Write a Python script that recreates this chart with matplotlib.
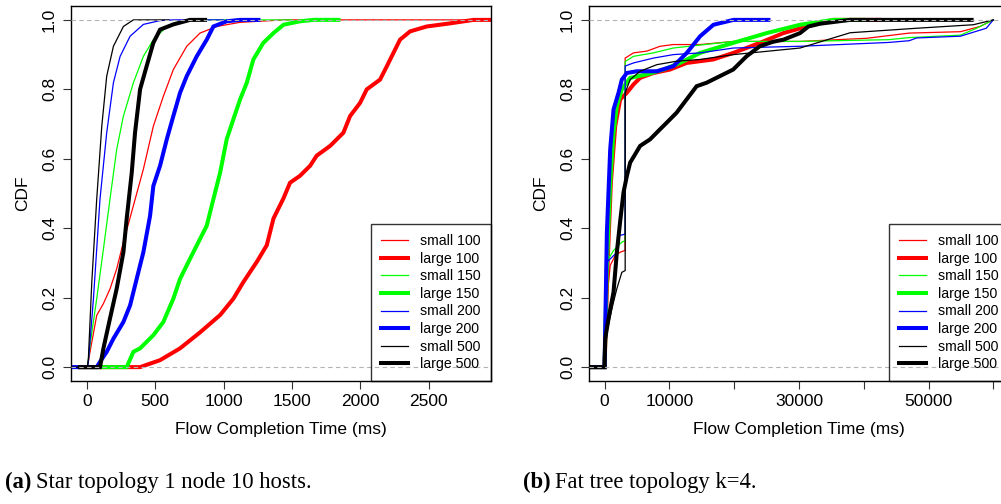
import matplotlib
matplotlib.use("Agg")
import matplotlib.pyplot as plt

plt.rcParams['font.family'] = ['Liberation Sans', 'DejaVu Sans']

# ---------------------------------------------------------------------------
# ECDF knots (flow completion time in ms, cumulative fraction)
# ---------------------------------------------------------------------------
series_labels = ["small 100", "large 100", "small 150", "large 150",
                 "small 200", "large 200", "small 500", "large 500"]

# Star topology, 1 node, 10 hosts
star_small100 = [(-115, 0), (5, 0), (24, 0.044), (73, 0.149), (122, 0.183), (171, 0.226),
                 (219, 0.283), (268, 0.36), (341, 0.465), (414, 0.57), (487, 0.694),
                 (560, 0.78), (633, 0.857), (731, 0.924), (828, 0.962), (950, 0.981),
                 (1121, 0.993), (1438, 1.0), (2955, 1.0)]
star_large100 = [(-49, 0), (390, 0), (536, 0.02), (682, 0.054), (828, 0.1), (975, 0.15),
                 (1072, 0.197), (1145, 0.245), (1243, 0.303), (1316, 0.351), (1365, 0.428),
                 (1438, 0.486), (1486, 0.531), (1559, 0.551), (1633, 0.58), (1681, 0.609),
                 (1779, 0.637), (1876, 0.675), (1925, 0.723), (1998, 0.761), (2047, 0.8),
                 (2144, 0.828), (2193, 0.866), (2242, 0.905), (2290, 0.943), (2364, 0.967),
                 (2485, 0.981), (2656, 0.99), (2827, 1.0), (2955, 1.0)]
star_small150 = [(-115, 0), (5, 0), (24, 0.063), (73, 0.197), (122, 0.34), (170, 0.484),
                 (219, 0.627), (268, 0.723), (341, 0.819), (414, 0.895), (487, 0.943),
                 (585, 0.981), (731, 0.998), (877, 1.0), (1500, 1.0)]
star_large150 = [(-49, 0), (292, 0), (341, 0.044), (390, 0.054), (487, 0.092), (560, 0.13),
                 (633, 0.197), (682, 0.254), (755, 0.312), (828, 0.369), (877, 0.407),
                 (926, 0.484), (975, 0.56), (1023, 0.656), (1072, 0.714), (1121, 0.771),
                 (1170, 0.819), (1218, 0.886), (1291, 0.934), (1365, 0.962), (1438, 0.986),
                 (1560, 0.996), (1657, 1.0), (1840, 1.0)]
star_small200 = [(-115, 0), (5, 0), (12, 0.015), (49, 0.197), (97, 0.484), (146, 0.675),
                 (195, 0.819), (244, 0.895), (317, 0.953), (414, 0.987), (536, 0.998),
                 (633, 1.0), (1000, 1.0)]
star_large200 = [(-115, 0), (73, 0), (97, 0.015), (146, 0.044), (195, 0.082), (268, 0.13),
                 (317, 0.178), (365, 0.254), (414, 0.331), (463, 0.436), (487, 0.522),
                 (536, 0.58), (585, 0.656), (633, 0.723), (682, 0.79), (731, 0.838),
                 (804, 0.895), (877, 0.943), (926, 0.981), (1023, 0.996), (1121, 1.0),
                 (1255, 1.0)]
star_small500 = [(-115, 0), (5, 0), (12, 0.025), (37, 0.245), (73, 0.484), (110, 0.694),
                 (146, 0.838), (195, 0.924), (268, 0.981), (341, 1.0), (600, 1.0)]
star_large500 = [(-49, 0), (97, 0), (100, 0.006), (122, 0.054), (170, 0.14), (219, 0.226),
                 (268, 0.331), (292, 0.427), (329, 0.56), (353, 0.675), (390, 0.8),
                 (438, 0.867), (487, 0.934), (536, 0.972), (633, 0.987), (755, 1.0),
                 (865, 1.0)]

# Fat tree topology, k=4
fat_small100 = [(-2400, 0), (0, 0), (359, 0.197), (872, 0.293), (1641, 0.321), (2410, 0.331),
                (3180, 0.336), (3180, 0.89), (4462, 0.905), (6513, 0.91), (8564, 0.924),
                (10615, 0.929), (14749, 0.929), (19888, 0.938), (30166, 0.938),
                (40443, 0.947), (47000, 0.962), (54900, 0.966), (57916, 0.981), (59970, 1.0)]
fat_large100 = [(-2400, 0), (0, 0), (462, 0.293), (975, 0.532), (1641, 0.694), (2410, 0.771),
                (3436, 0.79), (4462, 0.814), (5487, 0.833), (7538, 0.847), (10103, 0.857),
                (12667, 0.876), (16769, 0.886), (19888, 0.905), (23997, 0.934),
                (27596, 0.962), (31194, 0.981), (35305, 1.0), (42500, 1.0)]
fat_small150 = [(-2400, 0), (0, 0), (256, 0.3), (1385, 0.336), (2667, 0.36), (3180, 0.364),
                (3180, 0.88), (4462, 0.895), (7538, 0.905), (10615, 0.919), (19888, 0.938),
                (30166, 0.938), (43800, 0.943), (47000, 0.949), (54900, 0.956),
                (57402, 0.976), (59970, 1.0)]
fat_large150 = [(-2400, 0), (0, 0), (359, 0.293), (872, 0.532), (1385, 0.675), (1900, 0.752),
                (2667, 0.8), (3949, 0.833), (6513, 0.843), (9077, 0.857), (11641, 0.876),
                (14749, 0.905), (19888, 0.934), (25027, 0.962), (30166, 0.986),
                (35305, 1.0), (40000, 1.0)]
fat_small200 = [(-2400, 0), (0, 0), (256, 0.3), (1385, 0.321), (2000, 0.331), (2308, 0.379),
                (3180, 0.383), (3180, 0.867), (4462, 0.876), (7538, 0.89), (10615, 0.9),
                (14749, 0.905), (19888, 0.919), (30166, 0.924), (43800, 0.935),
                (47000, 0.94), (48152, 0.948), (54900, 0.953), (58900, 0.976), (59970, 1.0)]
fat_large200 = [(-2400, 0), (0, 0), (359, 0.388), (872, 0.627), (1385, 0.742), (2154, 0.79),
                (2667, 0.828), (3436, 0.847), (4974, 0.852), (8068, 0.852), (10638, 0.867),
                (12693, 0.905), (14749, 0.953), (16805, 0.986), (19888, 1.0), (25284, 1.0)]
fat_small500 = [(-2400, 0), (0, 0), (359, 0.1), (1128, 0.168), (1897, 0.226), (2667, 0.273),
                (3180, 0.278), (3180, 0.79), (3949, 0.828), (5487, 0.852), (8051, 0.871),
                (11128, 0.881), (14749, 0.886), (19888, 0.9), (30166, 0.919),
                (37900, 0.963), (48200, 0.976), (56889, 0.986), (59970, 1.0)]
fat_large500 = [(-2400, 0), (0, 0), (103, 0.082), (615, 0.14), (1385, 0.216), (1897, 0.331),
                (2410, 0.42), (2923, 0.503), (3436, 0.55), (3949, 0.589), (5487, 0.637),
                (7025, 0.656), (8564, 0.685), (9590, 0.704), (11128, 0.733), (12667, 0.771),
                (14205, 0.809), (15743, 0.819), (17794, 0.838), (19845, 0.857),
                (21897, 0.895), (23948, 0.924), (26000, 0.937), (27596, 0.943),
                (30166, 0.962), (31450, 0.981), (33250, 0.989), (37874, 1.0), (56632, 1.0)]

star_series = [star_small100, star_large100, star_small150, star_large150,
               star_small200, star_large200, star_small500, star_large500]
fat_series = [fat_small100, fat_large100, fat_small150, fat_large150,
              fat_small200, fat_large200, fat_small500, fat_large500]

star_xticks = [0, 500, 1000, 1500, 2000, 2500]
star_xticklabels = ["0", "500", "1000", "1500", "2000", "2500"]
fat_xticks = [0, 10000, 20000, 30000, 40000, 50000, 60000]
fat_xticklabels = ["0", "10000", "", "30000", "", "50000", ""]
cdf_ticks = [0.0, 0.2, 0.4, 0.6, 0.8, 1.0]
cdf_ticklabels = ["0.0", "0.2", "0.4", "0.6", "0.8", "1.0"]

captions = [("(a)", "Star topology 1 node 10 hosts."),
            ("(b)", "Fat tree topology k=4.")]

# ---------------------------------------------------------------------------
# Styling
# ---------------------------------------------------------------------------
series_colors = ["#ff0000", "#ff0000", "#00ff00", "#00ff00",
                 "#0000ff", "#0000ff", "#000000", "#000000"]
series_widths = [0.9, 2.9, 0.9, 2.9, 0.9, 2.9, 0.9, 2.9]

W, H = 1001, 504
fig = plt.figure(figsize=(W / 100, H / 100), dpi=100)


def axes_px(left, top, right, bottom):
    return fig.add_axes([left / W, 1 - bottom / H, (right - left) / W, (bottom - top) / H])


def draw_panel(ax, series, xlim, xticks, xticklabels):
    for pts, lab, col, lw in zip(series, series_labels, series_colors, series_widths):
        xs = [p[0] for p in pts]
        ys = [p[1] for p in pts]
        ax.plot(xs, ys, color=col, lw=lw, label=lab, solid_joinstyle="miter", zorder=2)
    for level in (0.0, 1.0):
        ax.axhline(level, color="#b3b3b3", lw=0.8, ls=(0, (4, 3)), zorder=3)

    ax.set_xlim(*xlim)
    ax.set_ylim(-0.04, 1.04)
    ax.set_xticks(xticks)
    ax.set_xticklabels(xticklabels)
    ax.set_yticks(cdf_ticks)
    ax.set_yticklabels(cdf_ticklabels, rotation=90, va="center")
    ax.tick_params(axis="both", direction="out", length=5.8, width=0.8,
                   labelsize=12.5, color="#333333")
    ax.tick_params(axis="x", pad=3.4)
    ax.tick_params(axis="y", pad=4.3)
    for sp in ax.spines.values():
        sp.set_linewidth(1.0)
        sp.set_color("black")

    ax.set_xlabel("Flow Completion Time (ms)", fontsize=12.5)
    ax.set_ylabel("CDF", fontsize=12.5)
    ax.xaxis.set_label_coords(0.5, -0.1085)
    ax.yaxis.set_label_coords(-0.098, 0.5)

    leg = ax.legend(loc="lower right", bbox_to_anchor=(1, 0), borderaxespad=0,
                    fontsize=10.2, frameon=True, fancybox=False, edgecolor="black",
                    facecolor="none", framealpha=None, labelspacing=0.25,
                    handlelength=1.9, handletextpad=0.9, borderpad=0.7)
    leg.get_frame().set_linewidth(1.0)


ax_star = axes_px(71, 6, 491, 381)
ax_fat = axes_px(589, 6, 1009, 381)
draw_panel(ax_star, star_series, (-115, 2955), star_xticks, star_xticklabels)
draw_panel(ax_fat, fat_series, (-2400, 62400), fat_xticks, fat_xticklabels)

# Sub-figure captions: bold tag followed by regular text
for (tag, text), x0 in zip(captions, (5, 523)):
    t = fig.text(x0 / W, 1 - 488 / H, tag, family="Liberation Serif", weight="bold",
                 fontsize=16.3, va="baseline", ha="left")
    plt.annotate(text, xy=(1, 0), xycoords=t, xytext=(3, 0), textcoords="offset points",
                 family="Liberation Serif", fontsize=16.3, va="bottom", ha="left",
                 annotation_clip=False)

fig.savefig("out.png", dpi=100)
